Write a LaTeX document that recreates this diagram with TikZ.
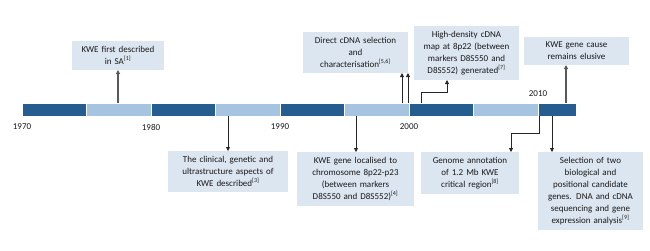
\documentclass[tikz,border=0pt]{standalone}
\usepackage{fontspec}
\setmainfont{Carlito}
\usepackage{xcolor}
\definecolor{kwedark}{HTML}{265D91}
\definecolor{kwelight}{HTML}{A6C3DF}
\definecolor{kweband}{HTML}{DCE6F1}
\usetikzlibrary{arrows.meta,positioning}
\begin{document}
\begin{tikzpicture}[x=1pt, y=-1pt,
  obj/.style={fill=kweband, align=center, inner xsep=2pt, inner ysep=5pt,
    font=\fontsize{9}{12}\selectfont, text=black!90},
  yr/.style={font=\fontsize{9}{11}\selectfont, text=black!90},
  arr/.style={-{Triangle[length=4pt,width=4pt]}, line width=0.8pt, black!85},
  big/.style={arr, line width=1.3pt, black!65}]
\useasboundingbox (0,0) rectangle (650,250);
\foreach \x/\w/\c in {22/64.5/kwedark, 86.5/64.5/kwelight, 151/64.5/kwedark,
  215.5/64.5/kwelight, 280/64.5/kwedark, 344.5/64.5/kwelight, 409/64.5/kwedark,
  473.5/64.5/kwelight, 538/38/kwedark}
  \draw[fill=\c, draw=white, line width=0.5pt] (\x,103) rectangle ++(\w,13);
\node[yr] (y70) at (22,127) {1970};
\node[yr] (y80) at (151,127) {1980};
\node[yr] (y90) at (280,127) {1990};
\node[yr] (y00) at (409,127) {2000};
\node[yr] (y10) at (538,94) {2010};
\node[obj, text width=88pt, anchor=south] (first) at (118,70)
  {KWE first described\\in SA\textsuperscript{[1]}};
\node[obj, text width=101pt, anchor=south] (direct) at (355.5,73)
  {Direct cDNA selection\\and\\characterisation\textsuperscript{[5,6]}};
\node[obj, text width=101pt, anchor=south] (high) at (466.5,80)
  {High-density cDNA\\map at 8p22 (between\\markers D8S550 and\\D8S552) generated\textsuperscript{[7]}};
\node[obj, text width=101pt, anchor=south] (elusive) at (576.5,65)
  {KWE gene cause\\remains elusive};
\node[obj, text width=116pt, anchor=north] (clinical) at (228,151)
  {The clinical, genetic and\\ultrastructure aspects of\\KWE described\textsuperscript{[3]}};
\node[obj, text width=113pt, anchor=north] (local) at (355.5,152)
  {KWE gene localised to\\chromosome 8p22-p23\\(between markers\\D8S550 and D8S552)\textsuperscript{[4]}};
\node[obj, text width=94pt, anchor=north] (genome) at (470,152)
  {Genome annotation\\of 1.2 Mb KWE\\critical region\textsuperscript{[8]}};
\node[obj, text width=101pt, anchor=north] (select) at (590.5,152)
  {Selection of two\\biological and\\positional candidate\\genes. DNA and cDNA\\sequencing and gene\\expression analysis\textsuperscript{[9]}};
\coordinate (t77) at (118,103);
\coordinate (d1) at (402,103);
\coordinate (d2) at (408,103);
\coordinate (h0) at (421,103);
\coordinate (hbend) at (447,92);
\coordinate (t13) at (566,103);
\coordinate (c81) at (228,116);
\coordinate (c91) at (356,116);
\coordinate (g0) at (539,116);
\coordinate (gbend) at (511,133);
\coordinate (s0) at (552,116);
\draw[big] (t77) -- (t77 |- first.south);
\draw[arr] (d1) -- (d1 |- direct.south);
\draw[arr] (d2) -- (d2 |- direct.south);
\draw[arr] (h0) |- (hbend) -- (hbend |- high.south);
\draw[big] (t13) -- (t13 |- elusive.south);
\draw[arr] (c81) -- (c81 |- clinical.north);
\draw[arr] (c91) -- (c91 |- local.north);
\draw[arr] (g0) |- (gbend) -- (gbend |- genome.north);
\draw[arr] (s0) -- (s0 |- select.north);
\end{tikzpicture}
\end{document}
